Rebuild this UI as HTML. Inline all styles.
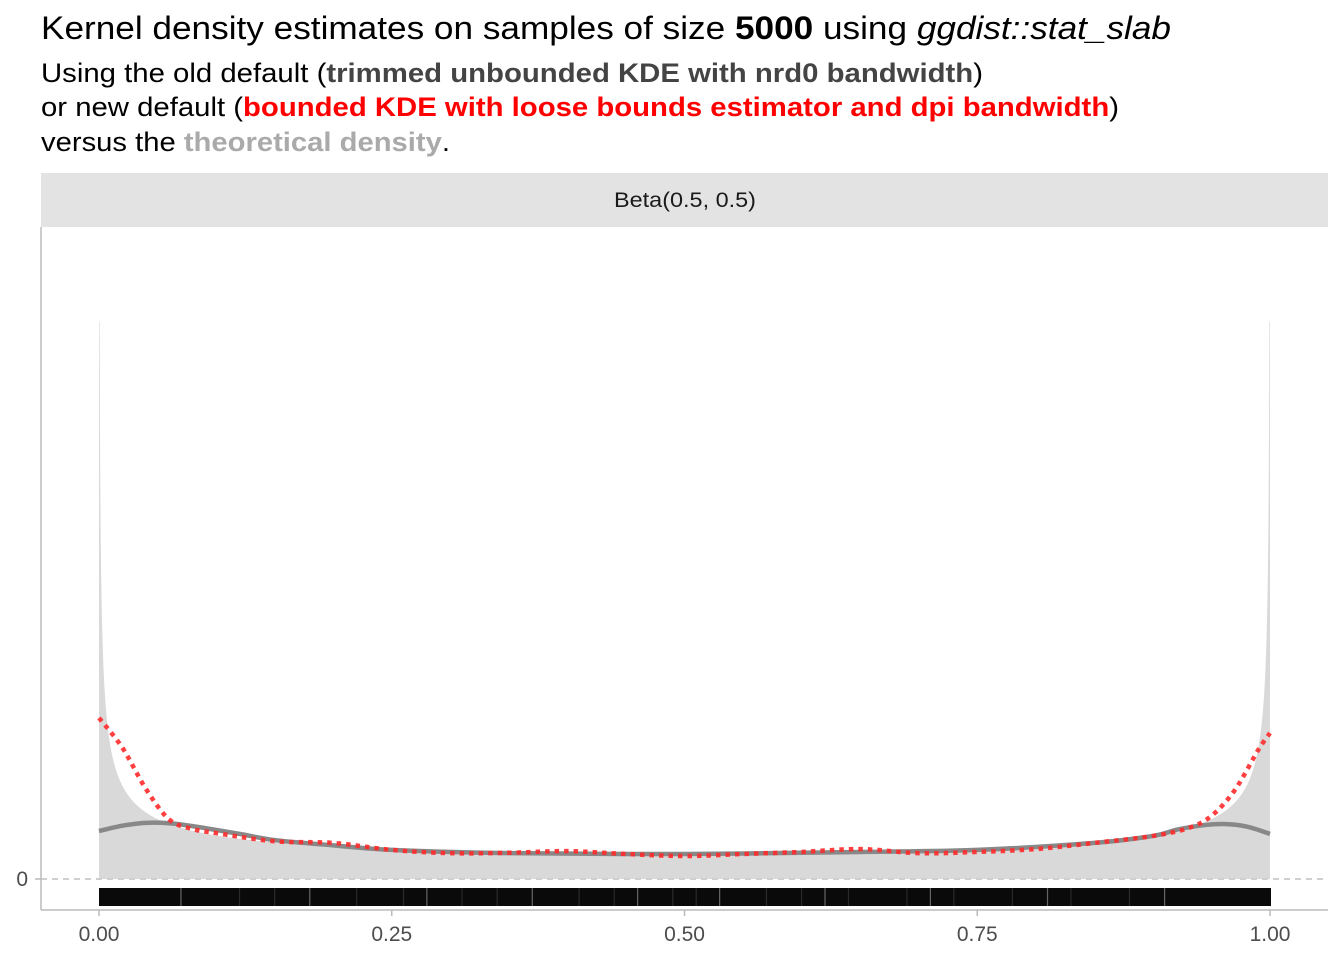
<!DOCTYPE html>
<html><head><meta charset="utf-8"><style>
html,body{margin:0;padding:0;background:#fff;}
svg{display:block;font-family:"Liberation Sans",Arial,sans-serif;}
</style></head><body>
<svg id="chart" width="1344" height="960" viewBox="0 0 1344 960">
<text x="41" y="39" font-size="32" fill="#000" textLength="1130" lengthAdjust="spacingAndGlyphs">Kernel density estimates on samples of size <tspan font-weight="bold">5000</tspan> using <tspan font-style="italic">ggdist::stat_slab</tspan></text>
<text x="41" y="82" font-size="27" fill="#000" textLength="942" lengthAdjust="spacingAndGlyphs">Using the old default (<tspan font-weight="bold" fill="#444">trimmed unbounded KDE with nrd0 bandwidth</tspan>)</text>
<text x="41" y="116" font-size="27" fill="#000" textLength="1078" lengthAdjust="spacingAndGlyphs">or new default (<tspan font-weight="bold" fill="#ff0000">bounded KDE with loose bounds estimator and dpi bandwidth</tspan>)</text>
<text x="41" y="151" font-size="27" fill="#000" textLength="409" lengthAdjust="spacingAndGlyphs">versus the <tspan font-weight="bold" fill="#aaaaaa">theoretical density</tspan>.</text>
<rect x="41" y="173" width="1287" height="54" fill="#e3e3e3"/>
<text x="685" y="207" font-size="21" text-anchor="middle" fill="#1a1a1a" textLength="142" lengthAdjust="spacingAndGlyphs">Beta(0.5, 0.5)</text>
<g id="plot"></g>
<line x1="41" y1="227" x2="41" y2="910" stroke="#bbb" stroke-width="1.5"/>
<line x1="41" y1="910" x2="1328" y2="910" stroke="#bbb" stroke-width="1.5"/>
</svg>
<script>
const xTicks = [0, 0.25, 0.5, 0.75, 1];
const xTickLabels = ["0.00", "0.25", "0.50", "0.75", "1.00"];
const yTicks = [0];
const yTickLabels = ["0"];
const redX = [0, 0.02, 0.04, 0.06, 0.08, 0.1, 0.15, 0.2, 0.25, 0.3, 0.35, 0.4, 0.45, 0.5, 0.55, 0.6, 0.65, 0.7, 0.75, 0.8, 0.85, 0.9, 0.93, 0.95, 0.97, 0.99, 1];
const redY = [3.93, 3.2, 2.2, 1.45, 1.22, 1.12, 0.92, 0.88, 0.71, 0.63, 0.64, 0.68, 0.61, 0.56, 0.61, 0.66, 0.73, 0.63, 0.66, 0.73, 0.88, 1.05, 1.24, 1.54, 2.17, 3.15, 3.56];
const greyX = [0, 0.02, 0.04, 0.06, 0.08, 0.12, 0.15, 0.2, 0.25, 0.35, 0.5, 0.65, 0.75, 0.85, 0.9, 0.92, 0.94, 0.96, 0.98, 1];
const greyY = [1.17, 1.3, 1.37, 1.36, 1.29, 1.1, 0.95, 0.82, 0.71, 0.63, 0.61, 0.66, 0.71, 0.88, 1.05, 1.2, 1.3, 1.34, 1.28, 1.1];
const theoMax = 13.6;
const rugGaps = [0.07, 0.12, 0.15, 0.18, 0.22, 0.26, 0.28, 0.31, 0.34, 0.37, 0.41, 0.44, 0.46, 0.49, 0.51, 0.53, 0.57, 0.6, 0.62, 0.64, 0.69, 0.71, 0.73, 0.78, 0.81, 0.83, 0.88, 0.91];

const NS = "http://www.w3.org/2000/svg";
const X0 = 99, X1 = 1270, Y0 = 879, PX = 41;
const sx = v => X0 + v * (X1 - X0);
const sy = d => Y0 - d * PX;
const g = document.getElementById("plot");
function mk(tag, attrs) { const e = document.createElementNS(NS, tag); for (const k in attrs) e.setAttribute(k, attrs[k]); g.appendChild(e); return e; }

let pts = [];
const N = 600;
for (let i = 0; i <= N; i++) {
  const t = i / N;
  const u = 0.5 - 0.5 * Math.cos(Math.PI * t);
  const x = Math.min(Math.max(u, 1e-6), 1 - 1e-6);
  const d = Math.min(theoMax, 1 / (Math.PI * Math.sqrt(x * (1 - x))));
  pts.push(sx(u).toFixed(2) + "," + sy(d).toFixed(2));
}
const slab = mk("polygon", { points: sx(0) + "," + Y0 + " " + pts.join(" ") + " " + sx(1) + "," + Y0, fill: "#d9d9d9" });



const zl = mk("line", { x1: 41, x2: 1328, y1: sy(yTicks[0]), y2: sy(yTicks[0]), stroke: "#cfcfcf", "stroke-width": 2, "stroke-dasharray": "6,5" });



const rug = mk("rect", { x: sx(0), y: 888, width: sx(1) - sx(0) + 1, height: 18, fill: "#0a0a0a" });


rugGaps.forEach((v, i) => {
  const l = mk("line", { x1: sx(v), x2: sx(v), y1: 888, y2: 906, stroke: i % 3 === 0 ? "#666" : "#2a2a2a", "stroke-width": 1.2 });
  
  
});

function pathOf(xs, ys) {
  const p = xs.map((v, i) => [sx(v), sy(ys[i])]);
  let d = "M" + p[0][0].toFixed(2) + "," + p[0][1].toFixed(2);
  for (let i = 0; i < p.length - 1; i++) {
    const a = p[Math.max(0, i - 1)], b = p[i], c = p[i + 1], e = p[Math.min(p.length - 1, i + 2)];
    const c1 = [b[0] + (c[0] - a[0]) / 6, b[1] + (c[1] - a[1]) / 6];
    const c2 = [c[0] - (e[0] - b[0]) / 6, c[1] - (e[1] - b[1]) / 6];
    d += " C" + c1[0].toFixed(2) + "," + c1[1].toFixed(2) + " " + c2[0].toFixed(2) + "," + c2[1].toFixed(2) + " " + c[0].toFixed(2) + "," + c[1].toFixed(2);
  }
  return d;
}
const grey = mk("path", { d: pathOf(greyX, greyY), fill: "none", stroke: "#888", "stroke-width": 4.5, "stroke-linejoin": "round" });


const red = mk("path", { d: pathOf(redX, redY), fill: "none", stroke: "#ff2a2a", "stroke-opacity": 0.9, "stroke-width": 4.5, "stroke-dasharray": "4.5,5" });



xTicks.forEach((v, i) => {
  const t = mk("line", { x1: sx(v), x2: sx(v), y1: 910, y2: 916, stroke: "#bbb", "stroke-width": 1.5 });
  
  
  const lb = mk("text", { x: sx(v), y: 941, "font-size": 21, "text-anchor": "middle", fill: "#4d4d4d" });
  lb.textContent = xTickLabels[i];
  
  
});
yTicks.forEach((v, i) => {
  const t = mk("line", { x1: 35, x2: 41, y1: sy(v), y2: sy(v), stroke: "#bbb", "stroke-width": 1.5 });
  
  
  const lb = mk("text", { x: 28, y: sy(v) + 7, "font-size": 21, "text-anchor": "end", fill: "#4d4d4d" });
  lb.textContent = yTickLabels[i];
  
  
});
</script>
</body></html>
